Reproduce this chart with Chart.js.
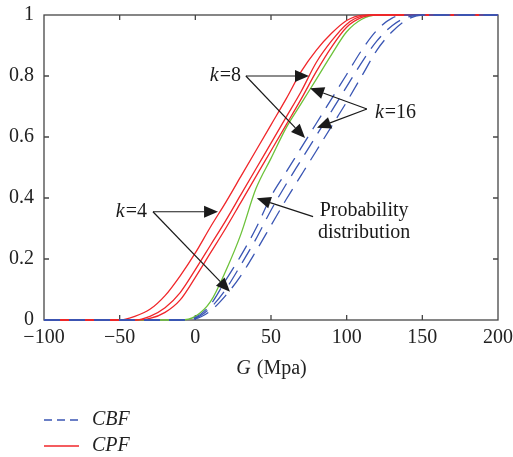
<!DOCTYPE html>
<html>
<head>
<meta charset="utf-8">
<script src="https://cdn.jsdelivr.net/npm/chart.js@4.4.1/dist/chart.umd.min.js"></script>
<style>
  body { margin: 0; background: #fff; }
</style>
</head>
<body>
<canvas id="c" width="513" height="457"></canvas>
<script>
// G (Mpa) sample positions shared by every curve
const gGrid = [-100, -50, -40, -30, -20, -10, 0, 10, 20, 30, 40, 50, 60, 70, 80, 90, 100, 110, 120, 130, 140, 150, 200];

// CPF curves (solid red)
const cpfK4  = [0, 0, 0.012, 0.035, 0.08, 0.145, 0.22, 0.305, 0.385, 0.47, 0.555, 0.64, 0.725, 0.815, 0.885, 0.94, 0.982, 0.999, 1, 1, 1, 1, 1];
const cpfK8  = [0, 0, 0, 0.012, 0.04, 0.09, 0.165, 0.245, 0.325, 0.41, 0.495, 0.58, 0.665, 0.75, 0.845, 0.915, 0.97, 0.996, 1, 1, 1, 1, 1];
const cpfK16 = [0, 0, 0, 0.005, 0.025, 0.066, 0.14, 0.22, 0.3, 0.385, 0.47, 0.555, 0.64, 0.725, 0.815, 0.895, 0.96, 0.992, 1, 1, 1, 1, 1];

// CBF curves (dashed blue)
const cbfK16 = [0, 0, 0, 0, 0, 0, 0.008, 0.05, 0.13, 0.21, 0.3, 0.405, 0.485, 0.565, 0.645, 0.725, 0.805, 0.885, 0.95, 0.99, 1, 1, 1];
const cbfK8  = [0, 0, 0, 0, 0, 0, 0.006, 0.04, 0.1, 0.18, 0.265, 0.36, 0.445, 0.525, 0.605, 0.685, 0.765, 0.845, 0.915, 0.965, 0.993, 1, 1];
const cbfK4  = [0, 0, 0, 0, 0, 0, 0.004, 0.03, 0.08, 0.145, 0.225, 0.31, 0.395, 0.475, 0.555, 0.635, 0.715, 0.8, 0.885, 0.945, 0.985, 1, 1];

// probability distribution (green)
const probDist = [0, 0, 0, 0, 0, 0, 0.012, 0.06, 0.16, 0.28, 0.43, 0.53, 0.63, 0.71, 0.79, 0.87, 0.945, 0.986, 1, 1, 1, 1, 1];

const xTicks = [-100, -50, 0, 50, 100, 150, 200];
const yTicks = [0, 0.2, 0.4, 0.6, 0.8, 1];

// annotation anchors, in data units (G, P)
const kLabels = ['4', '8', '16'];
const kTextAt = [[-32.6, 0.354, 'right'], [29.5, 0.8, 'right'], [118.7, 0.679, 'left']];
const kArrowFrom = [[-28, 0.355], [33.4, 0.8], [113.4, 0.692]];
const kArrowTips = [
  [[15, 0.355], [22.9, 0.093]],
  [[75.1, 0.8], [72.5, 0.597]],
  [[75.8, 0.76], [80.4, 0.63]]
];
const probText = ['Probability', 'distribution'];
const probTextAt = [[111.5, 0.357], [111.5, 0.285]];
const probArrow = [[77.8, 0.339], [40.6, 0.399]];

const SERIF = '"Liberation Serif", "DejaVu Serif", serif';
const RED = '#f0262a';
const BLUE = '#3a56b4';
const GREEN = '#6cc23a';

function pts(vals) {
  return gGrid.map((g, i) => ({ x: g, y: vals[i] }));
}

function arrow(ctx, x0, y0, x1, y1) {
  const ang = Math.atan2(y1 - y0, x1 - x0), L = 14, W = 6;
  const bx = x1 - L * Math.cos(ang), by = y1 - L * Math.sin(ang);
  ctx.beginPath();
  ctx.moveTo(x0, y0);
  ctx.lineTo(bx, by);
  ctx.stroke();
  ctx.beginPath();
  ctx.moveTo(x1, y1);
  ctx.lineTo(bx + W * Math.sin(ang), by - W * Math.cos(ang));
  ctx.lineTo(bx - W * Math.sin(ang), by + W * Math.cos(ang));
  ctx.closePath();
  ctx.fill();
}

// italic part followed by upright part
function mixedText(ctx, ital, rest, x, y, align) {
  ctx.font = 'italic 20px ' + SERIF;
  const w1 = ctx.measureText(ital).width;
  ctx.font = '20px ' + SERIF;
  const w2 = ctx.measureText(rest).width;
  let x0 = x;
  if (align === 'right') x0 = x - w1 - w2;
  if (align === 'center') x0 = x - (w1 + w2) / 2;
  ctx.textAlign = 'left';
  ctx.textBaseline = 'middle';
  ctx.font = 'italic 20px ' + SERIF;
  ctx.fillText(ital, x0, y);
  ctx.font = '20px ' + SERIF;
  ctx.fillText(rest, x0 + w1 + 1, y);
}

const frame = {
  id: 'frame',
  beforeDatasetsDraw(chart) {
    const { ctx, chartArea: a, scales: { x, y } } = chart;
    ctx.save();
    ctx.strokeStyle = '#454545';
    ctx.lineWidth = 1.3;
    ctx.strokeRect(a.left, a.top, a.right - a.left, a.bottom - a.top);
    ctx.beginPath();
    xTicks.slice(1, -1).forEach(v => {
      const px = x.getPixelForValue(v);
      ctx.moveTo(px, a.bottom); ctx.lineTo(px, a.bottom - 5);
      ctx.moveTo(px, a.top); ctx.lineTo(px, a.top + 5);
    });
    yTicks.slice(1, -1).forEach(v => {
      const py = y.getPixelForValue(v);
      ctx.moveTo(a.left, py); ctx.lineTo(a.left + 5, py);
      ctx.moveTo(a.right, py); ctx.lineTo(a.right - 5, py);
    });
    ctx.stroke();
    ctx.restore();
  },
  afterDatasetsDraw(chart) {
    const { ctx, chartArea: a, scales: { x, y } } = chart;
    const X = v => x.getPixelForValue(v);
    const Y = v => y.getPixelForValue(v);
    ctx.save();
    ctx.strokeStyle = '#1a1a1a';
    ctx.fillStyle = '#1a1a1a';
    ctx.lineWidth = 1.2;

    kLabels.forEach((k, i) => {
      const [fx, fy] = kArrowFrom[i];
      kArrowTips[i].forEach(([tx, ty]) => arrow(ctx, X(fx), Y(fy), X(tx), Y(ty)));
      const [lx, ly, al] = kTextAt[i];
      mixedText(ctx, 'k', '=' + k, X(lx), Y(ly), al);
    });

    arrow(ctx, X(probArrow[0][0]), Y(probArrow[0][1]), X(probArrow[1][0]), Y(probArrow[1][1]));
    ctx.font = '20px ' + SERIF;
    ctx.textAlign = 'center';
    ctx.textBaseline = 'middle';
    probText.forEach((t, i) => ctx.fillText(t, X(probTextAt[i][0]), Y(probTextAt[i][1])));

    // axis title
    ctx.fillStyle = '#222';
    mixedText(ctx, 'G', ' (Mpa)', (a.left + a.right) / 2, a.bottom + 49, 'center');

    // legend
    const lx = a.left, ly1 = a.bottom + 100, ly2 = a.bottom + 126;
    ctx.lineWidth = 1.3;
    ctx.strokeStyle = BLUE;
    ctx.setLineDash([8, 5]);
    ctx.beginPath(); ctx.moveTo(lx, ly1); ctx.lineTo(lx + 35, ly1); ctx.stroke();
    ctx.setLineDash([]);
    ctx.strokeStyle = RED;
    ctx.beginPath(); ctx.moveTo(lx, ly2); ctx.lineTo(lx + 35, ly2); ctx.stroke();
    ctx.fillStyle = '#222';
    ctx.font = 'italic 20px ' + SERIF;
    ctx.textAlign = 'left';
    ctx.fillText('CBF', lx + 48, ly1);
    ctx.fillText('CPF', lx + 48, ly2);
    ctx.restore();
  }
};

const tickFont = { family: SERIF, size: 20 };

new Chart(document.getElementById('c'), {
  type: 'line',
  data: {
    datasets: [
      { label: 'CBF k=4', data: pts(cbfK4), borderColor: BLUE, borderDash: [16, 9] },
      { label: 'CBF k=8', data: pts(cbfK8), borderColor: BLUE, borderDash: [16, 9] },
      { label: 'CBF k=16', data: pts(cbfK16), borderColor: BLUE, borderDash: [16, 9] },
      { label: 'CPF k=4', data: pts(cpfK4), borderColor: RED },
      { label: 'CPF k=8', data: pts(cpfK8), borderColor: RED },
      { label: 'CPF k=16', data: pts(cpfK16), borderColor: RED },
      { label: 'Probability distribution', data: pts(probDist), borderColor: GREEN }
    ]
  },
  options: {
    responsive: false,
    animation: false,
    layout: { padding: { top: 15, right: 15, left: 0, bottom: 0 } },
    plugins: { legend: { display: false }, tooltip: { enabled: false } },
    elements: {
      point: { radius: 0 },
      line: { borderWidth: 1.3, cubicInterpolationMode: 'monotone', fill: false }
    },
    datasets: { line: { clip: 3 } },
    scales: {
      x: {
        type: 'linear', min: -100, max: 200,
        afterBuildTicks: s => { s.ticks = xTicks.map(v => ({ value: v })); },
        ticks: {
          padding: 6, color: '#222', font: tickFont, maxRotation: 0, autoSkip: false,
          callback: v => String(v).replace('-', '\u2212')
        },
        grid: { display: false, drawTicks: false },
        border: { display: false },
        afterFit: s => { s.height = 137; s.paddingLeft = 0; s.paddingRight = 0; }
      },
      y: {
        type: 'linear', min: 0, max: 1,
        afterBuildTicks: s => { s.ticks = yTicks.map(v => ({ value: v })); },
        ticks: {
          padding: 10, color: '#222', font: tickFont,
          callback: v => String(+v.toFixed(1))
        },
        grid: { display: false, drawTicks: false },
        border: { display: false },
        afterFit: s => { s.width = 44; s.paddingTop = 0; s.paddingBottom = 0; }
      }
    }
  },
  plugins: [frame]
});
</script>
</body>
</html>
